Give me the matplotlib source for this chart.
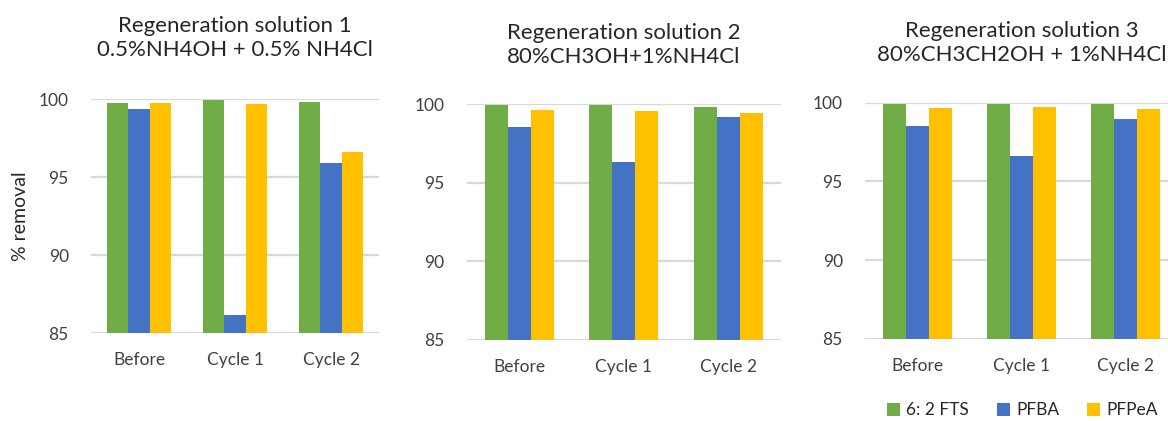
import numpy as np
import matplotlib
matplotlib.use("Agg")
import matplotlib.pyplot as plt
from matplotlib.patches import Patch

plt.rcParams["font.family"] = ["Lato", "DejaVu Sans"]

# ── DATA ──────────────────────────────────────────────────────────
CYCLES  = ["Before", "Cycle 1", "Cycle 2"]
SERIES  = ["6: 2 FTS", "PFBA", "PFPeA"]
COLORS  = ["#70AD47", "#4472C4", "#FFC000"]

TITLES = [
    "Regeneration solution 1\n0.5%NH4OH + 0.5% NH4Cl",
    "Regeneration solution 2\n80%CH3OH+1%NH4Cl",
    "Regeneration solution 3\n80%CH3CH2OH + 1%NH4Cl",
]

# % removal per panel, rows = series (6:2 FTS, PFBA, PFPeA), cols = cycles
sol1 = [[99.72, 99.94, 99.79],
        [99.36, 86.15, 95.88],
        [99.72, 99.66, 96.58]]
sol2 = [[99.94, 99.94, 99.83],
        [98.58, 96.31, 99.21],
        [99.64, 99.57, 99.42]]
sol3 = [[99.94, 99.94, 99.94],
        [98.54, 96.64, 98.97],
        [99.68, 99.75, 99.60]]
PANELS = [sol1, sol2, sol3]

YTICKS = [85, 90, 95, 100]
# ─────────────────────────────────────────────────────────────────

TEXT = "#404040"
DARK = "#262626"
GRID = "#D9D9D9"

# axes boxes in figure fractions: left, bottom, width, height
BOXES = [
    (0.0779, 0.2090, 0.2466, 0.5558),
    (0.3998, 0.1924, 0.2688, 0.5599),
    (0.7406, 0.1948, 0.2680, 0.5612),
]
TITLE_Y = [0.909, 0.892, 0.897]

fig = plt.figure(figsize=(11.68, 4.21), dpi=100)

bar_w = 0.22
x = np.arange(len(CYCLES))

for i, (data, box) in enumerate(zip(PANELS, BOXES)):
    ax = fig.add_axes(box)
    for k, (vals, col) in enumerate(zip(data, COLORS)):
        ax.bar(x + (k - 1) * bar_w, np.array(vals) - 85, bottom=85,
               width=bar_w, color=col, zorder=3)
    ax.set_xlim(-0.5, len(CYCLES) - 0.5)
    ax.set_ylim(85, 100)
    ax.set_yticks(YTICKS)
    ax.set_xticks(x)
    ax.set_xticklabels(CYCLES)
    ax.yaxis.grid(True, color=GRID, linewidth=1.6, zorder=0)
    ax.set_axisbelow(True)
    for s in ax.spines.values():
        s.set_visible(False)
    ax.tick_params(axis="both", length=0, labelsize=12.5, colors=TEXT)
    ax.tick_params(axis="y", pad=16)
    ax.tick_params(axis="x", pad=14)

    cx = box[0] + box[2] / 2
    fig.text(cx, TITLE_Y[i], TITLES[i], ha="center", va="center",
             fontsize=16, color=DARK, linespacing=1.25)

    if i == 0:
        ax.set_ylabel("% removal", fontsize=14, color=DARK, labelpad=7)

handles = [Patch(facecolor=c, label=s) for s, c in zip(SERIES, COLORS)]
fig.legend(handles=handles, loc="center right", bbox_to_anchor=(1.0, 0.025),
           ncol=3, frameon=False, fontsize=12.5, handlelength=0.75,
           handleheight=0.75, handletextpad=0.35, columnspacing=1.6,
           borderaxespad=0.2, labelcolor=DARK)

fig.savefig("out.png", dpi=100)
